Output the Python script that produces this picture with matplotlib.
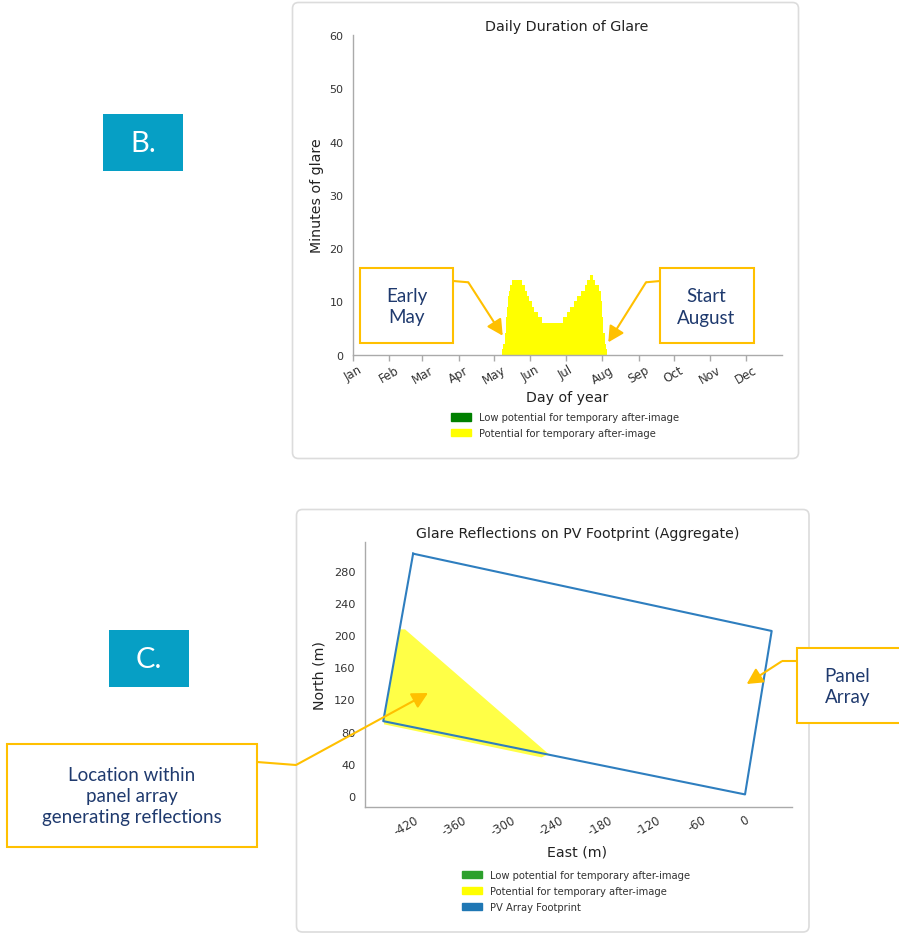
import matplotlib
matplotlib.use("Agg")
import matplotlib.pyplot as plt
from matplotlib.patches import FancyBboxPatch, Rectangle, FancyArrowPatch, Patch, Polygon
from matplotlib.lines import Line2D

plt.rcParams["axes.unicode_minus"] = False
plt.rcParams["font.family"] = ["DejaVu Sans"]

W, H, DPI = 899, 937, 100

# ---------------- data ----------------
# Daily duration of glare (minutes), one value per day, first value on day-of-year 128
glare_first_day = 128
glare_minutes = [
    1, 2, 4, 7, 9, 11, 12, 13, 14, 14, 14, 14, 14, 14, 14, 14, 14,
    13, 13, 12, 12, 11, 11, 10, 10, 9, 9, 8, 8, 8, 7, 7, 7, 7,
    6, 6, 6, 6, 6, 6, 6, 6, 6, 6, 6, 6, 6, 6, 6, 6, 6, 6,
    7, 7, 7, 8, 8, 8, 9, 9, 9, 10, 10, 10, 11, 11, 11, 12, 12, 12,
    13, 13, 14, 14, 14, 15, 15, 14, 14, 13, 13, 13, 12, 12,
    10, 7, 4, 2, 1,
]
month_labels = ["Jan", "Feb", "Mar", "Apr", "May", "Jun",
                "Jul", "Aug", "Sep", "Oct", "Nov", "Dec"]
month_start_days = [1, 32, 60, 91, 121, 152, 182, 213, 244, 274, 305, 335]
minute_ticks = [0, 10, 20, 30, 40, 50, 60]

# PV array footprint (closed outline) and aggregated glare zone, metres
footprint_east = [-411, 33, 0, -448, -411]
footprint_north = [301, 205, 2, 93, 301]
glare_zone_east = [-447, -428, -421, -243, -252, -447]
glare_zone_north = [94, 207, 207, 52, 48, 89]
east_ticks = [-420, -360, -300, -240, -180, -120, -60, 0]
north_ticks = [0, 40, 80, 120, 160, 200, 240, 280]

legend_glare = ["Low potential for temporary after-image",
                "Potential for temporary after-image"]
legend_footprint = "PV Array Footprint"

# ---------------- helpers ----------------
def inch(x, y):
    """pixel position measured from the top-left corner -> inches from bottom-left"""
    return (x / DPI, (H - y) / DPI)


def ax_rect(left, top, right, bottom):
    return [left / W, 1 - bottom / H, (right - left) / W, (bottom - top) / H]


fig = plt.figure(figsize=(W / DPI, H / DPI), dpi=DPI)
fig.patch.set_facecolor("white")
TR = fig.dpi_scale_trans

SPINE = "#aaaaaa"
TICKTXT = "#333333"
TITLE = "#222222"
ORANGE = "#ffc000"
NAVY = "#1f3a6e"
TEAL = "#069fc5"

# ---------------- panel frames ----------------
for (l, t, r, b) in [(292.5, 3.5, 798.5, 459.5), (296.5, 510.5, 809.0, 933.0)]:
    fig.add_artist(FancyBboxPatch(inch(l, b), (r - l) / DPI, (b - t) / DPI,
                                  boxstyle="round,pad=0,rounding_size=0.06",
                                  transform=TR, facecolor="white",
                                  edgecolor="#dcdcdc", lw=1.2, zorder=-1))

# ---------------- daily duration of glare ----------------
ax1 = fig.add_axes(ax_rect(353, 36, 782, 355.7))
days = [glare_first_day + i for i in range(len(glare_minutes))]
ax1.bar(days, glare_minutes, width=1.0, align="edge", color="#ffff00", linewidth=0)
ax1.set_xlim(1, 366)
ax1.set_ylim(0, 60)
ax1.set_xticks(month_start_days)
ax1.set_xticklabels(month_labels, rotation=30, fontsize=8.5, color=TICKTXT)
ax1.set_yticks(minute_ticks)
ax1.set_yticklabels([str(v) for v in minute_ticks], fontsize=8, color=TICKTXT)
for s in ("top", "right"):
    ax1.spines[s].set_visible(False)
for s in ("left", "bottom"):
    ax1.spines[s].set_color(SPINE)
    ax1.spines[s].set_linewidth(1.0)
ax1.tick_params(axis="x", length=4, width=1, color=SPINE, pad=2)
ax1.tick_params(axis="y", length=0, pad=6.8)

fig.text(*inch(567, 31.5), "Daily Duration of Glare", ha="center", va="baseline",
         fontsize=10.3, color=TITLE, transform=TR)
fig.text(*inch(567, 402), "Day of year", ha="center", va="baseline",
         fontsize=10.2, color=TITLE, transform=TR)
fig.text(*inch(321, 195.5), "Minutes of glare", ha="center", va="baseline",
         rotation=90, rotation_mode="anchor", fontsize=10.2, color=TITLE, transform=TR)

ax1.legend(handles=[Patch(color="#008000"), Patch(color="#ffff00")], labels=legend_glare,
           loc="upper left", bbox_to_anchor=inch(451, 413.5), bbox_transform=TR,
           frameon=False, fontsize=7.2, handlelength=2.0, handleheight=0.75,
           handletextpad=0.8, labelspacing=0.55, borderpad=0, borderaxespad=0,
           labelcolor=TICKTXT)

# ---------------- glare reflections on PV footprint ----------------
ax2 = fig.add_axes(ax_rect(365, 543, 791.7, 808.3))
ax2.add_patch(Polygon(list(zip(glare_zone_east, glare_zone_north)), closed=True,
                      facecolor="#ffff00", alpha=0.72, edgecolor="none", zorder=1))
ax2.plot(footprint_east, footprint_north, color="#2e7ebf", lw=1.5, zorder=2)
ax2.set_xlim(-470.6, 57.8)
ax2.set_ylim(-14, 315.5)
ax2.set_xticks(east_ticks)
ax2.set_xticklabels([str(v) for v in east_ticks], rotation=30, fontsize=8.4, color=TICKTXT)
ax2.set_yticks(north_ticks)
ax2.set_yticklabels([str(v) for v in north_ticks], fontsize=8.2, color=TICKTXT)
for s in ("top", "right"):
    ax2.spines[s].set_visible(False)
for s in ("left", "bottom"):
    ax2.spines[s].set_color(SPINE)
    ax2.spines[s].set_linewidth(1.0)
ax2.tick_params(axis="x", length=0, pad=4)
ax2.tick_params(axis="y", length=0, pad=6.7)

fig.text(*inch(577.5, 538.5), "Glare Reflections on PV Footprint (Aggregate)",
         ha="center", va="baseline", fontsize=10.2, color=TITLE, transform=TR)
fig.text(*inch(577.3, 856.7), "East (m)", ha="center", va="baseline",
         fontsize=10.2, color=TITLE, transform=TR)
fig.text(*inch(323.3, 676), "North (m)", ha="center", va="baseline",
         rotation=90, rotation_mode="anchor", fontsize=10.2, color=TITLE, transform=TR)

ax2.legend(handles=[Patch(color="#2ca02c"), Patch(color="#ffff00"), Patch(color="#1f77b4")],
           labels=legend_glare + [legend_footprint],
           loc="upper left", bbox_to_anchor=inch(462, 871), bbox_transform=TR,
           frameon=False, fontsize=7.2, handlelength=2.0, handleheight=0.75,
           handletextpad=0.8, labelspacing=0.6, borderpad=0, borderaxespad=0,
           labelcolor=TICKTXT)

# ---------------- section tags ----------------
for label, (l, t, r, b) in [("B.", (103, 115, 183, 172)), ("C.", (109, 631, 189, 688))]:
    fig.add_artist(Rectangle(inch(l, b), (r - l) / DPI, (b - t) / DPI, transform=TR,
                             facecolor=TEAL, edgecolor="none", zorder=3))
    fig.text(*inch((l + r) / 2, (t + b) / 2 + 1), label, ha="center", va="center",
             fontsize=21, color="white", family=["Lato", "DejaVu Sans"],
             fontweight="normal", transform=TR, zorder=4)

# ---------------- callouts ----------------
callouts = [
    ("Early\nMay", (360, 269.3, 453.3, 344), (406.7, 307.2),
     [(453.3, 282), (468.3, 283.3)], (502.7, 336.7)),
    ("Start\nAugust", (660, 269.3, 754, 344), (706.5, 307.5),
     [(660, 282), (646, 283.3)], (608.3, 343.3)),
    ("Panel\nArray", (796.7, 649.3, 905, 724), (847.5, 687.2),
     [(796.7, 662.3), (781.7, 662.3)], (746.7, 685)),
    ("Location within\npanel array\ngenerating reflections", (7, 745, 257, 848), (132, 796.5),
     [(257, 763), (296, 766)], (428, 694)),
]
for text, (l, t, r, b), (cx, cy), elbow, tip in callouts:
    fig.add_artist(Rectangle(inch(l, b), (r - l) / DPI, (b - t) / DPI, transform=TR,
                             facecolor="white", edgecolor=ORANGE, lw=1.5, zorder=5))
    fig.text(*inch(cx, cy), text, ha="center", va="center", linespacing=1.3,
             fontsize=13.5, color=NAVY, family=["Lato", "DejaVu Sans"],
             transform=TR, zorder=6)
    xs = [p[0] / DPI for p in elbow]
    ys = [(H - p[1]) / DPI for p in elbow]
    fig.add_artist(Line2D(xs, ys, transform=TR, color=ORANGE, lw=1.5, zorder=5,
                          solid_capstyle="butt"))
    fig.add_artist(FancyArrowPatch(inch(*elbow[-1]), inch(*tip),
                                   arrowstyle="-|>,head_length=0.95,head_width=0.5",
                                   mutation_scale=10, color=ORANGE, lw=1.5,
                                   shrinkA=0, shrinkB=0, transform=TR, zorder=5))

fig.savefig("out.png", dpi=DPI, facecolor="white")
